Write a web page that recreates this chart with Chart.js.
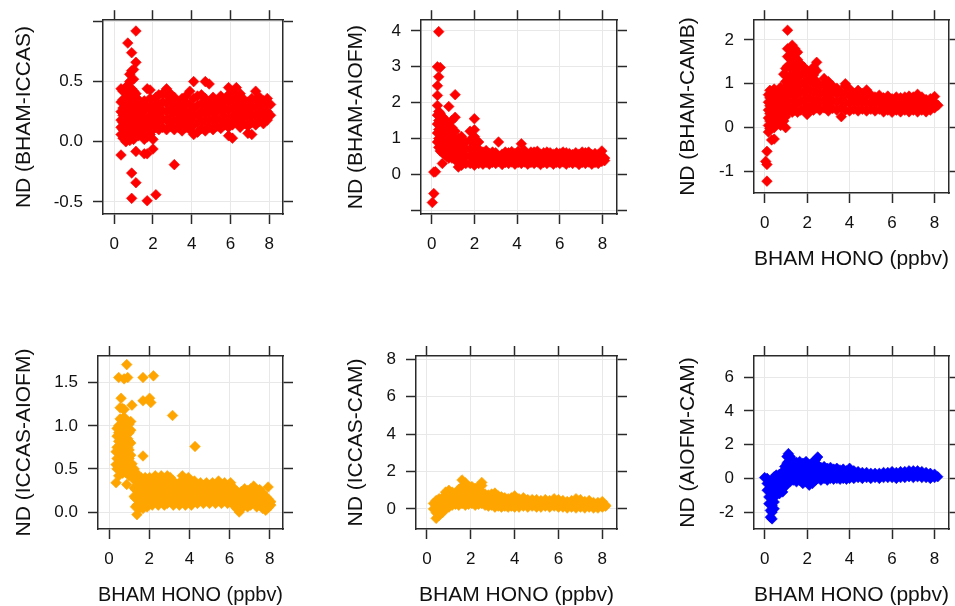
<!DOCTYPE html>
<html><head><meta charset="utf-8">
<script src="https://cdn.jsdelivr.net/npm/chart.js@4.4.1/dist/chart.umd.min.js"></script>
<style>
html,body{margin:0;padding:0;background:#fff;overflow:hidden;width:955px;height:606px;position:relative;}
canvas{position:absolute;}
</style></head><body>
<canvas id="c1"></canvas><canvas id="c2"></canvas><canvas id="c3"></canvas>
<canvas id="c4"></canvas><canvas id="c5"></canvas><canvas id="c6"></canvas>
<script>
// ---------- tick values / labels ----------
const xTicks = [0, 2, 4, 6, 8];
const xTickLabels = ['0', '2', '4', '6', '8'];
const xTitleText = 'BHAM HONO (ppbv)';

const yTicksBhamIccas = [-0.5, 0, 0.5, 1.0];
const yLabelsBhamIccas = ['-0.5', '0.0', '0.5', ''];
const yTicksBhamAiofm = [-1, 0, 1, 2, 3, 4];
const yLabelsBhamAiofm = ['', '0', '1', '2', '3', '4'];
const yTicksBhamCamb = [-1, 0, 1, 2];
const yLabelsBhamCamb = ['-1', '0', '1', '2'];
const yTicksIccasAiofm = [0, 0.5, 1.0, 1.5];
const yLabelsIccasAiofm = ['0.0', '0.5', '1.0', '1.5'];
const yTicksIccasCam = [0, 2, 4, 6, 8];
const yLabelsIccasCam = ['0', '2', '4', '6', '8'];
const yTicksAiofmCam = [-2, 0, 2, 4, 6];
const yLabelsAiofmCam = ['-2', '0', '2', '4', '6'];

// ---------- data: [BHAM HONO x, [ND values at that x]] ----------
const bhamIccas = [
 [0.35,[-0.11,0.06,0.12,0.18,0.25,0.33,0.44]],[0.45,[0.03,0.1,0.16,0.22,0.28,0.35,0.42]],
 [0.6,[0.0,0.07,0.14,0.21,0.28,0.36,0.45]],[0.7,[0.05,0.12,0.19,0.26,0.33,0.4,0.47,0.82]],
 [0.8,[0.01,0.09,0.17,0.24,0.31,0.38,0.5,0.56]],[0.9,[-0.47,-0.26,0.04,0.12,0.2,0.28,0.36,0.44,0.59,0.74]],
 [1.0,[0.02,0.1,0.18,0.26,0.34,0.42,0.52,0.6]],[1.12,[-0.34,-0.08,0.07,0.15,0.23,0.31,0.4,0.66,0.92]],
 [1.25,[0.05,0.12,0.2,0.28,0.35]],[1.4,[0.08,0.16,0.24,0.32]],
 [1.55,[-0.1,0.02,0.1,0.18,0.26,0.34]],[1.7,[-0.49,-0.1,0.04,0.12,0.2,0.29,0.44]],
 [1.85,[0.06,0.14,0.22,0.3,0.36,0.43]],[2.0,[-0.06,0.02,0.1,0.18,0.26,0.34]],
 [2.15,[-0.44,0.12,0.2,0.28,0.37]],[2.3,[0.1,0.17,0.24,0.31,0.39]],
 [2.5,[0.12,0.19,0.26,0.33,0.4]],[2.7,[0.1,0.18,0.25,0.32,0.39,0.44]],
 [2.9,[0.13,0.2,0.27,0.34,0.4]],[3.1,[-0.19,0.1,0.17,0.24,0.31,0.37]],
 [3.3,[0.12,0.19,0.26,0.33]],[3.5,[0.09,0.16,0.23,0.3,0.36]],
 [3.7,[0.12,0.19,0.26,0.33,0.38]],[3.9,[0.1,0.17,0.24,0.31,0.42]],
 [4.1,[0.06,0.14,0.21,0.28,0.36,0.5]],[4.3,[0.08,0.16,0.23,0.3,0.38]],
 [4.5,[0.11,0.18,0.25,0.32,0.39]],[4.7,[0.09,0.16,0.23,0.3,0.36,0.5]],
 [4.9,[0.12,0.19,0.26,0.33,0.48]],[5.1,[0.1,0.17,0.24,0.31,0.37]],
 [5.3,[0.13,0.2,0.27,0.34]],[5.5,[0.11,0.18,0.25,0.32,0.38]],
 [5.7,[0.14,0.21,0.28,0.35]],[5.9,[0.05,0.12,0.19,0.26,0.33,0.39,0.45]],
 [6.1,[0.03,0.14,0.21,0.28,0.35,0.42]],[6.3,[0.16,0.23,0.3,0.37,0.45]],
 [6.5,[0.12,0.19,0.26,0.33,0.4]],[6.7,[0.15,0.22,0.29,0.35]],
 [6.9,[0.07,0.13,0.2,0.27,0.33]],[7.1,[0.06,0.16,0.23,0.3,0.36]],
 [7.3,[0.14,0.21,0.28,0.35,0.42]],[7.5,[0.17,0.24,0.31,0.37]],
 [7.7,[0.15,0.22,0.29,0.34]],[7.9,[0.18,0.25,0.32,0.36]],[8.07,[0.22,0.31]]
];

const bhamAiofm = [
 [0.03,[-0.79]],[0.1,[-0.54,0.06]],[0.18,[0.07]],
 [0.27,[0.9,1.15,1.4,1.65,1.92,2.2,2.47,3.0]],[0.33,[0.75,1.0,1.25,1.5,1.75,2.72,3.98]],
 [0.4,[0.65,0.9,1.15,1.4,1.7,2.98]],[0.5,[0.3,0.6,0.85,1.1,1.35,1.6]],
 [0.6,[0.55,0.8,1.05,1.3,1.55]],[0.7,[0.5,0.72,0.95,1.2,1.45]],
 [0.8,[0.45,0.68,0.9,1.12,1.35,1.89]],[0.95,[0.45,0.65,0.85,1.05,1.3,1.5]],
 [1.1,[0.4,0.6,0.8,1.0,1.2,1.59,2.22]],[1.25,[0.2,0.4,0.6,0.8,1.0]],
 [1.4,[0.25,0.45,0.65,0.85,1.05]],[1.6,[0.3,0.5,0.7,0.9]],
 [1.8,[0.3,0.5,0.7,0.95,1.2]],[2.0,[0.25,0.45,0.65,0.85,1.05,1.24,1.55]],
 [2.2,[0.3,0.5,0.7,0.9]],[2.4,[0.28,0.45,0.62]],[2.55,[0.33,0.5,0.66]],
 [2.7,[0.28,0.42,0.58]],[2.85,[0.33,0.48,0.62]],[3.0,[0.3,0.44,0.6]],[3.13,[0.9,0.36,0.5]],
 [3.3,[0.27,0.42,0.56]],[3.45,[0.33,0.48,0.62]],[3.6,[0.3,0.45,0.6]],[3.75,[0.34,0.5,0.63]],
 [3.9,[0.28,0.42,0.58]],[4.05,[0.33,0.48,0.64]],[4.2,[0.3,0.45,0.6,0.85]],[4.35,[0.34,0.5,0.66]],
 [4.5,[0.28,0.42,0.55]],[4.65,[0.33,0.48,0.62]],[4.8,[0.3,0.45,0.62]],[4.95,[0.34,0.5,0.64]],
 [5.1,[0.27,0.42,0.56]],[5.25,[0.33,0.48,0.6]],[5.4,[0.3,0.44,0.62]],[5.55,[0.34,0.5,0.6]],
 [5.7,[0.28,0.42,0.56]],[5.85,[0.33,0.48,0.6]],[6.0,[0.3,0.45,0.58]],[6.15,[0.34,0.5,0.62]],
 [6.3,[0.28,0.42,0.6]],[6.45,[0.33,0.48,0.58]],[6.6,[0.3,0.44,0.55]],[6.75,[0.34,0.5,0.6]],
 [6.9,[0.27,0.42,0.56]],[7.05,[0.33,0.48,0.62]],[7.2,[0.3,0.45,0.6]],[7.35,[0.34,0.5,0.62]],
 [7.5,[0.28,0.42,0.55]],[7.65,[0.33,0.48,0.58]],[7.8,[0.3,0.44,0.55]],[7.97,[0.65,0.36,0.5]],
 [8.1,[0.38,0.45]]
];

const bhamCamb = [
 [0.05,[-0.77]],[0.11,[-1.22,-0.84,-0.54]],
 [0.18,[-0.1,0.05,0.22,0.4,0.58,0.75]],[0.25,[-0.02,0.15,0.32,0.5,0.68,0.85]],
 [0.33,[-0.28,0.08,0.25,0.42,0.6,0.8]],[0.45,[-0.26,0.0,0.18,0.35,0.52,0.7,0.88]],
 [0.6,[0.12,0.3,0.48,0.65,0.82]],[0.75,[0.05,0.22,0.4,0.58,0.75,0.92]],
 [0.9,[0.15,0.32,0.5,0.68,0.88,1.22]],[0.99,[0.0,0.25,0.45,0.65,0.85,1.05,1.35]],
 [1.08,[0.35,0.55,0.75,0.95,1.15,1.4,1.62,1.8,2.22]],[1.18,[0.4,0.58,0.78,0.98,1.18,1.38,1.58,1.78]],
 [1.3,[0.35,0.55,0.75,0.95,1.15,1.35,1.55,1.75,1.88]],[1.42,[0.4,0.6,0.8,1.0,1.2,1.4,1.6,1.8]],
 [1.55,[0.35,0.55,0.75,0.95,1.15,1.35,1.55,1.72]],[1.7,[0.4,0.6,0.8,1.0,1.2,1.45]],
 [1.85,[0.42,0.62,0.82,1.02,1.25,1.38]],[2.0,[0.3,0.5,0.7,0.9,1.1,1.3]],
 [2.15,[0.45,0.65,0.85,1.05,1.25]],[2.3,[0.4,0.6,0.8,1.0,1.2,1.38]],
 [2.45,[0.45,0.65,0.85,1.05,1.3,1.49]],[2.6,[0.4,0.58,0.76,0.95]],
 [2.8,[0.45,0.63,0.82,1.0,1.12]],[3.0,[0.38,0.56,0.74,0.92,1.05]],
 [3.2,[0.44,0.62,0.8,0.95]],[3.4,[0.4,0.58,0.76,0.9]],
 [3.61,[0.25,0.45,0.63,0.8]],[3.8,[0.4,0.58,0.76,0.95,1.0]],
 [4.0,[0.38,0.55,0.72,0.88]],[4.2,[0.42,0.6,0.78]],[4.4,[0.38,0.55,0.72,0.85]],
 [4.6,[0.42,0.6,0.78]],[4.8,[0.38,0.55,0.72,0.86]],[5.0,[0.42,0.58,0.75]],
 [5.2,[0.38,0.55,0.7]],[5.4,[0.42,0.58,0.74]],[5.6,[0.36,0.52,0.68]],
 [5.8,[0.4,0.56,0.72]],[6.0,[0.35,0.5,0.66]],[6.2,[0.4,0.55,0.7]],
 [6.4,[0.36,0.52,0.68]],[6.6,[0.4,0.56,0.7]],[6.8,[0.36,0.52,0.68,0.72]],
 [7.0,[0.4,0.55,0.7]],[7.2,[0.36,0.52,0.68,0.76]],[7.4,[0.4,0.55,0.7]],
 [7.6,[0.36,0.5,0.64]],[7.8,[0.4,0.54,0.66]],[8.0,[0.45,0.58,0.71]],[8.16,[0.51]]
];

const iccasAiofm = [
 [0.35,[0.34,0.55,0.7]],[0.4,[0.5,0.62,0.75,0.88,0.97]],[0.48,[0.42,0.52,0.62,0.72,0.82,0.92,1.0,1.56]],
 [0.55,[0.48,0.58,0.68,0.78,0.88,0.98,1.08,1.21]],[0.6,[0.52,0.62,0.72,0.82,0.92,1.02,1.32]],
 [0.68,[0.45,0.55,0.65,0.75,0.85,0.95,1.05,1.2]],[0.75,[0.5,0.6,0.7,0.8,0.9,1.0,1.1,1.19,1.545]],
 [0.82,[0.46,0.56,0.66,0.76,0.86,0.96,1.06]],[0.88,[0.32,0.5,0.6,0.7,0.8,0.9,1.0,1.71]],
 [0.93,[0.45,0.55,0.65,0.75,0.85,0.95,1.05,1.56]],[1.0,[0.42,0.52,0.62,0.72,0.82,0.92,1.02]],
 [1.08,[0.45,0.55,0.66,0.8,0.95,1.05]],[1.14,[0.48,0.56,1.24]],
 [1.25,[0.18,0.28,0.38,0.5]],[1.32,[0.06,0.16,0.26,0.36,0.46]],[1.39,[-0.03,0.08,0.18,0.3,0.42]],
 [1.5,[0.04,0.14,0.24,0.34]],[1.6,[0.08,0.18,0.28,0.4]],[1.69,[0.04,0.14,0.24,0.34,0.65,1.29,1.56]],
 [1.8,[0.1,0.2,0.3,0.4]],[1.9,[0.06,0.16,0.26,0.34]],[2.02,[0.1,0.2,0.3,0.4,1.32]],[2.08,[1.27]],
 [2.15,[0.08,0.18,0.28,0.38]],[2.21,[1.58]],[2.3,[0.12,0.22,0.32,0.42]],[2.45,[0.08,0.18,0.28,0.36]],
 [2.6,[0.12,0.22,0.32,0.42]],[2.75,[0.08,0.18,0.28,0.38]],[2.9,[0.1,0.2,0.3,0.42]],
 [3.05,[0.12,0.22,0.32,0.4]],[3.16,[1.12]],[3.2,[0.08,0.18,0.28,0.36]],[3.35,[0.12,0.22,0.32]],
 [3.5,[0.08,0.18,0.28,0.34]],[3.65,[0.12,0.22,0.32,0.42]],[3.8,[0.08,0.18,0.28,0.36]],
 [3.95,[0.12,0.22,0.32,0.4]],[4.1,[0.08,0.18,0.28]],[4.25,[0.12,0.22,0.32,0.36]],[4.28,[0.76]],
 [4.4,[0.1,0.2,0.3]],[4.55,[0.14,0.24,0.34]],[4.7,[0.1,0.2,0.3]],[4.85,[0.14,0.24,0.34]],
 [5.0,[0.1,0.2,0.3]],[5.15,[0.14,0.24,0.34]],[5.3,[0.1,0.2,0.3]],[5.45,[0.14,0.24,0.36]],
 [5.6,[0.1,0.2,0.3]],[5.75,[0.14,0.24,0.34]],[5.9,[0.1,0.2,0.3]],[6.05,[0.14,0.24,0.34]],
 [6.2,[0.08,0.18,0.28]],[6.35,[0.04,0.14,0.24]],[6.48,[0.0,0.1,0.2]],[6.6,[0.04,0.14,0.24]],
 [6.75,[0.08,0.18,0.27]],[6.9,[0.06,0.16,0.25]],[7.05,[0.08,0.18,0.27]],[7.2,[0.12,0.2,0.3]],
 [7.35,[0.06,0.16,0.25]],[7.5,[0.08,0.18,0.26]],[7.65,[0.04,0.14,0.22]],[7.8,[0.02,0.1,0.18]],
 [7.92,[0.05,0.15,0.29]],[8.05,[0.08,0.12]]
];

const iccasCam = [
 [0.3,[0.0,0.3]],[0.42,[-0.5,-0.2,0.15,0.45]],[0.55,[-0.35,0.0,0.3,0.55]],[0.7,[-0.2,0.1,0.4,0.6]],
 [0.85,[0.0,0.3,0.6,0.9]],[1.0,[0.1,0.4,0.7,1.0]],[1.15,[0.2,0.5,0.8,0.9]],[1.3,[0.25,0.55,0.8]],
 [1.45,[0.2,0.5,0.8,1.05]],[1.6,[0.3,0.6,0.9,1.2,1.55]],[1.75,[0.2,0.5,0.8,1.1,1.4]],
 [1.9,[0.25,0.55,0.85,1.2]],[2.05,[0.3,0.6,0.9,1.2]],[2.2,[0.2,0.5,0.8,1.1]],
 [2.35,[0.25,0.55,0.85,1.2]],[2.5,[0.3,0.6,0.9,1.25,1.42]],[2.65,[0.2,0.5,0.8]],
 [2.8,[0.15,0.45,0.75]],[2.95,[0.2,0.5,0.8]],[3.1,[0.1,0.4,0.7,0.85]],[3.25,[0.15,0.45,0.7]],
 [3.4,[0.1,0.4,0.65]],[3.55,[0.15,0.4,0.6]],[3.7,[0.1,0.35,0.55]],[3.85,[0.15,0.4,0.6]],
 [4.0,[0.1,0.35,0.6,0.7]],[4.2,[0.1,0.35,0.55]],[4.4,[0.15,0.35,0.6]],[4.6,[0.1,0.3,0.5]],
 [4.8,[0.15,0.35,0.5]],[5.0,[0.1,0.3,0.5]],[5.2,[0.1,0.3,0.45]],[5.4,[0.15,0.35,0.5]],
 [5.6,[0.1,0.3,0.45]],[5.8,[0.15,0.35,0.55]],[6.0,[0.1,0.3,0.5]],[6.2,[0.1,0.3,0.45]],
 [6.4,[0.05,0.25,0.4]],[6.6,[0.1,0.3,0.45]],[6.8,[0.05,0.25,0.45,0.55]],[7.0,[0.1,0.3,0.5]],
 [7.2,[0.05,0.25,0.4]],[7.4,[0.1,0.3,0.45]],[7.6,[0.05,0.2,0.35]],[7.8,[0.05,0.2,0.35]],
 [8.0,[0.1,0.25,0.4]],[8.15,[0.15,0.2]]
];

const aiofmCam = [
 [0.0,[0.05]],[0.12,[-0.7,-0.3,0.0]],[0.2,[-1.5,-1.1,-0.7,-0.3]],[0.27,[-2.3,-1.9,-1.5,-1.1,-0.6]],
 [0.35,[-2.4,-2.0,-1.6,-1.2,-0.8,-0.4]],[0.45,[-1.8,-1.4,-1.0,-0.6,-0.2,0.1]],
 [0.55,[-1.0,-0.6,-0.2,0.2]],[0.7,[-0.9,-0.5,-0.1,0.25]],[0.85,[-0.8,-0.4,0.0,0.4]],
 [0.95,[-0.5,-0.1,0.3,0.7]],[1.05,[-0.3,0.1,0.5,0.9,1.3]],[1.12,[0.2,0.6,1.0,1.47]],
 [1.2,[-0.2,0.2,0.6,1.0,1.3]],[1.35,[-0.1,0.3,0.7,1.05]],[1.5,[-0.2,0.2,0.6,0.95]],
 [1.65,[-0.1,0.3,0.65,1.0]],[1.8,[-0.3,0.1,0.5,0.9]],[1.95,[-0.2,0.2,0.6,1.0]],
 [2.1,[-0.4,0.0,0.4,0.8]],[2.25,[-0.3,0.1,0.5,0.95]],[2.4,[-0.1,0.3,0.7,1.1]],
 [2.5,[0.0,0.4,0.8,1.27]],[2.65,[-0.1,0.3,0.65]],[2.8,[0.0,0.35,0.7]],[2.95,[-0.1,0.25,0.6]],
 [3.1,[0.0,0.3,0.65]],[3.25,[-0.05,0.25,0.55]],[3.4,[0.0,0.3,0.6]],[3.55,[-0.05,0.25,0.5]],
 [3.7,[0.0,0.3,0.55]],[3.85,[-0.05,0.2,0.45]],[4.0,[0.0,0.3,0.6]],[4.2,[0.0,0.25,0.45]],
 [4.4,[0.05,0.25,0.4]],[4.6,[0.0,0.2,0.35]],[4.8,[0.05,0.2,0.35]],[5.0,[0.0,0.15,0.3]],
 [5.2,[0.05,0.2,0.3]],[5.4,[0.0,0.15,0.3]],[5.6,[0.05,0.2,0.35]],[5.8,[0.05,0.2,0.35]],
 [6.0,[0.05,0.25,0.4]],[6.2,[0.0,0.2,0.35]],[6.4,[0.05,0.25,0.4]],[6.6,[0.05,0.25,0.4]],
 [6.8,[0.1,0.3,0.45]],[7.0,[0.05,0.25,0.45]],[7.2,[0.1,0.3,0.45]],[7.4,[0.05,0.25,0.4]],
 [7.6,[0.05,0.2,0.35]],[7.8,[0.0,0.15,0.3]],[8.0,[0.05,0.15,0.25]],[8.15,[0.1]]
];

// ---------- styling / layout ----------
const FONT = "'Liberation Sans', Arial, sans-serif";
const TEXT = '#111';
const LINE = '#2a2a2a';
const GRID = '#e8e8e8';
const RED = '#ff0000', ORANGE = '#ffa500', BLUE = '#0000ff';

function flatten(cols) {
  const pts = [];
  cols.forEach(([x, ys]) => ys.forEach(y => pts.push({x: x, y: y})));
  return pts;
}

function makePanel(id, lay, cols, color, yTicks, yLabels, yTitle, xTitle) {
  const el = document.getElementById(id);
  el.width = lay.w; el.height = lay.h;
  el.style.left = lay.left + 'px'; el.style.top = lay.top + 'px';
  const tickFont = {family: FONT, size: 17};
  const titleFont = {family: FONT, size: 21};
  const setTicks = vals => s => { s.ticks = vals.map(v => ({value: v})); };
  const border = {display: true, color: LINE, width: 1.5};
  const tickGrid = {drawOnChartArea: false, tickLength: 10, tickColor: LINE, tickWidth: 1.5};
  new Chart(el, {
    type: 'scatter',
    data: {datasets: [{data: flatten(cols), backgroundColor: color, borderColor: color, borderWidth: 0.6,
      pointStyle: 'rectRot', pointRadius: 5.3, pointHoverRadius: 5.3}]},
    options: {
      responsive: false, animation: false, events: [],
      layout: {padding: 0},
      plugins: {legend: {display: false}, tooltip: {enabled: false}},
      scales: {
        x: {type: 'linear', position: 'bottom', min: lay.x[0], max: lay.x[1],
          afterBuildTicks: setTicks(xTicks), afterFit: s => { s.height = lay.b; },
          ticks: {autoSkip: false, maxRotation: 0, padding: 10, font: tickFont, color: TEXT,
            callback: (v, i) => xTickLabels[i]},
          grid: {color: GRID, lineWidth: 1, tickLength: 10, tickColor: LINE, tickWidth: 1.5},
          border: border,
          title: xTitle ? {display: true, text: xTitle, font: titleFont, color: TEXT,
            padding: {top: 0, bottom: lay.xtp}} : {display: false}},
        x2: {type: 'linear', position: 'top', min: lay.x[0], max: lay.x[1],
          afterBuildTicks: setTicks(xTicks), afterFit: s => { s.height = lay.t; },
          ticks: {autoSkip: false, maxRotation: 0, padding: 0, callback: () => ''},
          grid: tickGrid, border: border},
        y: {type: 'linear', position: 'left', min: lay.y[0], max: lay.y[1],
          afterBuildTicks: setTicks(yTicks), afterFit: s => { s.width = lay.l; },
          ticks: {autoSkip: false, padding: 10, font: tickFont, color: TEXT,
            callback: (v, i) => yLabels[i]},
          grid: {color: GRID, lineWidth: 1, tickLength: 10, tickColor: LINE, tickWidth: 1.5},
          border: border,
          title: {display: true, text: yTitle, font: titleFont, color: TEXT,
            padding: {top: 12, bottom: 0}}},
        y2: {type: 'linear', position: 'right', min: lay.y[0], max: lay.y[1],
          afterBuildTicks: setTicks(yTicks), afterFit: s => { s.width = lay.r; },
          ticks: {autoSkip: false, padding: 0, callback: () => ''},
          grid: tickGrid, border: border}
      }
    }
  });
}

makePanel('c1', {left: 0, top: 0, w: 300, h: 270, l: 103, r: 17, t: 19, b: 56, x: [-0.58, 8.71], y: [-0.60, 1.01]},
  bhamIccas, RED, yTicksBhamIccas, yLabelsBhamIccas, 'ND (BHAM-ICCAS)', null);
makePanel('c2', {left: 332, top: 0, w: 300, h: 270, l: 89, r: 15, t: 19, b: 56, x: [-0.50, 8.68], y: [-1.11, 4.30]},
  bhamAiofm, RED, yTicksBhamAiofm, yLabelsBhamAiofm, 'ND (BHAM-AIOFM)', null);
makePanel('c3', {left: 664, top: 0, w: 291, h: 290, l: 90, r: 6, t: 19, b: 97, xtp: 18, x: [-0.50, 8.68], y: [-1.49, 2.45]},
  bhamCamb, RED, yTicksBhamCamb, yLabelsBhamCamb, 'ND (BHAM-CAMB)', xTitleText);
makePanel('c4', {left: 0, top: 330, w: 300, h: 278, l: 98, r: 17, t: 26, b: 79, xtp: 0, x: [-0.55, 8.66], y: [-0.197, 1.81]},
  iccasAiofm, ORANGE, yTicksIccasAiofm, yLabelsIccasAiofm, 'ND (ICCAS-AIOFM)', xTitleText);
makePanel('c5', {left: 332, top: 330, w: 300, h: 278, l: 84, r: 15, t: 26, b: 79, xtp: 0, x: [-0.50, 8.67], y: [-1.07, 8.18]},
  iccasCam, ORANGE, yTicksIccasCam, yLabelsIccasCam, 'ND (ICCAS-CAM)', xTitleText);
makePanel('c6', {left: 664, top: 330, w: 291, h: 278, l: 90, r: 6, t: 26, b: 79, xtp: 0, x: [-0.50, 8.68], y: [-3.0, 7.26]},
  aiofmCam, BLUE, yTicksAiofmCam, yLabelsAiofmCam, 'ND (AIOFM-CAM)', xTitleText);
</script>
</body></html>
